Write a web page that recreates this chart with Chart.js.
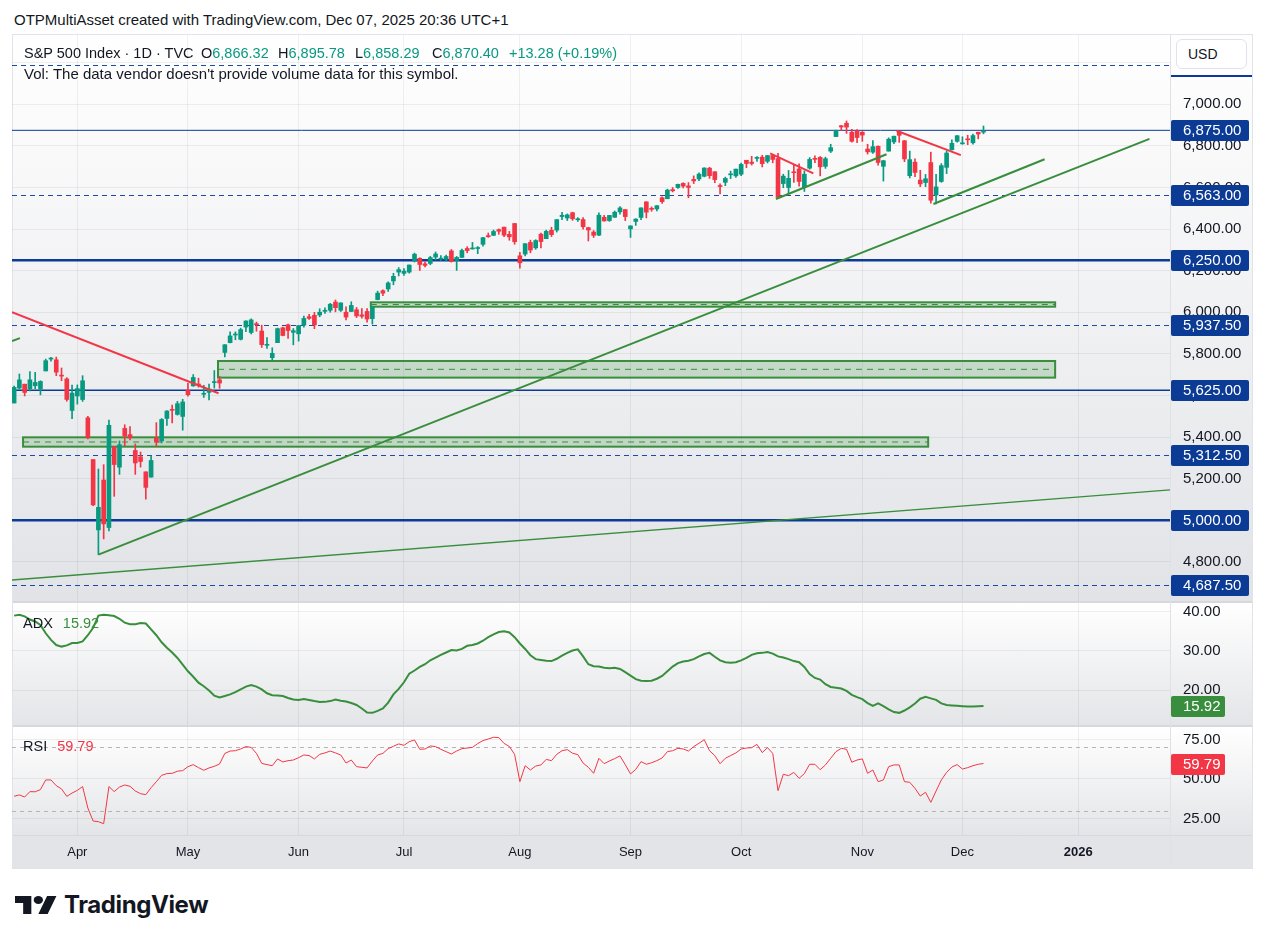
<!DOCTYPE html>
<html>
<head>
<meta charset="utf-8">
<script src="https://cdn.jsdelivr.net/npm/chart.js@4.4.1/dist/chart.umd.min.js"></script>
<style>
  body { margin: 0; width: 1266px; height: 944px; background: #fff; position: relative; overflow: hidden;
         font-family: "Liberation Sans", Arial, sans-serif; color: #131722; }
  .abs { position: absolute; }
  .pane { position: absolute; left: 12px; width: 1241px; }
  canvas { position: absolute; left: 0; }
  .txt { position: absolute; font-size: 14.5px; line-height: 16px; white-space: nowrap; }
  .g { color: #089981; }
</style>
</head>
<body>
<div class="txt" style="left:14px;top:12px;font-size:15px;">OTPMultiAsset created with TradingView.com, Dec 07, 2025 20:36 UTC+1</div>

<div class="pane" style="top:35px;height:566px;background:linear-gradient(#ffffff,#e2e3e7);"></div>
<div class="pane" style="top:601px;height:2px;background:#d6d8de;"></div>
<div class="pane" style="top:603px;height:122px;background:linear-gradient(#ffffff,#e4e5e8);"></div>
<div class="pane" style="top:725px;height:2px;background:#d6d8de;"></div>
<div class="pane" style="top:727px;height:108px;background:linear-gradient(#ffffff,#e4e5e8);"></div>
<div class="pane" style="top:835px;height:33px;background:#e3e4e8;border-top:1px solid #d6d8de;box-sizing:border-box;"></div>
<div class="abs" style="left:12px;top:34px;width:1241px;height:835px;border:1px solid #e0e3eb;box-sizing:border-box;"></div>
<div class="abs" style="left:1170px;top:35px;width:1px;height:833px;background:#dfe1e6;"></div>

<canvas id="cMain" width="1266" height="566" style="top:35px"></canvas>
<canvas id="cAdx" width="1266" height="122" style="top:603px"></canvas>
<canvas id="cRsi" width="1266" height="141" style="top:727px"></canvas>

<!-- price scale unit button -->
<div class="abs" style="left:1171px;top:35px;width:81px;height:40px;background:#fefefe;border-bottom:2px solid #0b3b94;"></div>
<div class="abs" style="left:1176px;top:39px;width:71px;height:30px;border:1px solid #e0e3eb;border-radius:6px;background:#fff;box-sizing:border-box;font-size:14px;line-height:28px;padding-left:11px;">USD</div>

<!-- legends -->
<div class="txt" style="left:24px;top:45px;">S&amp;P 500 Index · 1D · TVC</div>
<div class="txt" style="left:201px;top:45px;">O<span class="g">6,866.32</span></div>
<div class="txt" style="left:278px;top:45px;">H<span class="g">6,895.78</span></div>
<div class="txt" style="left:355px;top:45px;">L<span class="g">6,858.29</span></div>
<div class="txt" style="left:432px;top:45px;">C<span class="g">6,870.40</span></div>
<div class="txt g" style="left:509px;top:45px;">+13.28 (+0.19%)</div>
<div class="txt" style="left:24px;top:66px;font-size:15px;">Vol: The data vendor doesn't provide volume data for this symbol.</div>
<div class="txt" style="left:23px;top:615px;">ADX <span style="color:#388e3c;margin-left:6px;">15.92</span></div>
<div class="txt" style="left:23px;top:738px;">RSI <span style="color:#f23645;margin-left:6px;">59.79</span></div>

<!-- footer logo -->
<svg class="abs" style="left:15px;top:896px" width="42" height="18" viewBox="0 4 36 18" preserveAspectRatio="none">
  <path d="M14 22H7V11H0V4h14v18zM28 22h-8l7.5-18h8L28 22z" fill="#131722"/>
  <circle cx="20" cy="8" r="4" fill="#131722"/>
</svg>
<div class="abs" style="left:64px;top:890px;font-family:Inter,'Liberation Sans',sans-serif;font-weight:700;font-size:24px;line-height:30px;letter-spacing:-0.4px;color:#131722;">TradingView</div>

<script>
// bar 0 = 2025-03-14, one bar per trading session up to 2025-12-05 (bar 184)
const opens = [
  5563.85, 5635.60, 5654.53, 5632.37, 5646.92, 5630.73, 5718.08, 5775.14, 5771.66, 5695.64,
  5679.83, 5527.91, 5597.53, 5580.76, 5492.74, 5292.14, 4953.79, 5193.57, 4965.28, 5353.15,
  5255.56, 5441.96, 5411.99, 5335.75, 5305.45, 5232.94, 5207.67, 5395.92, 5381.38, 5489.73,
  5529.22, 5508.87, 5499.44, 5625.14, 5645.94, 5655.32, 5605.88, 5614.97, 5662.00, 5675.41,
  5807.04, 5854.00, 5891.00, 5870.00, 5929.00, 5902.88, 5944.66, 5910.00, 5841.26, 5781.89,
  5854.07, 5925.54, 5939.92, 5903.67, 5896.68, 5938.56, 5978.94, 5985.67, 5987.06, 6004.60,
  6009.90, 6049.38, 6009.92, 6000.56, 6004.00, 6012.15, 5987.93, 6004.24, 5969.67, 6061.21,
  6104.17, 6112.10, 6150.70, 6193.36, 6187.25, 6193.29, 6246.45, 6259.75, 6233.03, 6235.04,
  6265.54, 6255.68, 6255.15, 6295.29, 6250.13, 6263.66, 6307.00, 6304.74, 6306.60, 6326.90,
  6368.60, 6370.01, 6397.69, 6409.34, 6374.75, 6427.02, 6271.71, 6280.00, 6336.00, 6309.97,
  6375.60, 6354.09, 6394.69, 6395.17, 6460.35, 6453.30, 6478.87, 6445.00, 6446.00, 6407.00,
  6386.00, 6371.00, 6457.00, 6441.00, 6457.00, 6483.00, 6494.00, 6401.00, 6437.00, 6456.00,
  6531.00, 6500.00, 6497.00, 6551.00, 6546.00, 6590.00, 6600.00, 6620.00, 6608.00, 6639.00,
  6641.00, 6654.00, 6693.00, 6676.00, 6609.00, 6625.00, 6661.00, 6656.00, 6664.00, 6731.00,
  6722.00, 6740.00, 6746.00, 6726.00, 6754.00, 6739.00, 6619.00, 6600.00, 6675.00, 6689.00,
  6602.00, 6693.00, 6736.00, 6745.00, 6702.00, 6775.00, 6845.00, 6897.00, 6909.00, 6866.00,
  6873.00, 6866.00, 6785.00, 6770.00, 6798.00, 6702.00, 6775.00, 6819.00, 6867.00, 6825.00,
  6657.00, 6722.00, 6636.00, 6624.00, 6720.00, 6564.00, 6629.00, 6697.00, 6782.00, 6822.00,
  6810.00, 6830.00, 6815.00, 6866.00, 6866.32
];
const highs = [
  5645.27, 5703.52, 5654.53, 5715.33, 5711.15, 5670.84, 5775.14, 5783.35, 5784.64, 5732.28,
  5685.89, 5650.57, 5650.83, 5695.31, 5499.53, 5292.14, 5246.57, 5267.47, 5481.34, 5353.15,
  5381.46, 5459.46, 5450.41, 5367.24, 5328.31, 5232.94, 5309.60, 5469.69, 5489.40, 5528.11,
  5553.66, 5571.95, 5581.84, 5658.91, 5700.70, 5683.48, 5649.22, 5654.87, 5720.10, 5691.68,
  5845.22, 5906.63, 5906.00, 5924.00, 5958.62, 5968.61, 5953.06, 5938.37, 5878.08, 5829.51,
  5924.33, 5929.00, 5943.13, 5922.14, 5937.40, 5981.35, 5990.48, 5999.70, 6016.87, 6021.31,
  6043.01, 6059.40, 6045.43, 6026.16, 6050.83, 6023.25, 6018.25, 6018.20, 6028.81, 6101.80,
  6108.51, 6146.52, 6187.68, 6215.08, 6210.78, 6227.60, 6284.65, 6262.33, 6242.97, 6269.45,
  6290.22, 6272.43, 6275.37, 6302.04, 6268.67, 6304.51, 6315.61, 6336.08, 6316.12, 6360.64,
  6381.31, 6395.82, 6401.07, 6409.34, 6389.01, 6427.02, 6288.62, 6329.94, 6346.99, 6349.07,
  6380.58, 6395.16, 6409.26, 6446.20, 6480.28, 6473.03, 6481.34, 6455.00, 6456.00, 6409.00,
  6393.00, 6478.00, 6466.00, 6466.00, 6487.00, 6508.00, 6494.00, 6416.00, 6450.00, 6502.50,
  6532.00, 6507.00, 6513.00, 6555.00, 6592.00, 6600.00, 6616.00, 6623.00, 6624.00, 6656.00,
  6671.00, 6695.00, 6697.00, 6676.00, 6618.00, 6650.00, 6679.00, 6689.00, 6718.00, 6731.00,
  6750.00, 6749.00, 6755.00, 6754.00, 6757.00, 6764.00, 6664.00, 6682.00, 6711.00, 6714.00,
  6680.00, 6744.00, 6752.00, 6749.00, 6746.00, 6808.00, 6876.00, 6899.00, 6920.00, 6880.00,
  6878.00, 6869.00, 6808.00, 6826.00, 6800.00, 6731.00, 6839.00, 6847.00, 6870.00, 6826.00,
  6775.00, 6738.00, 6683.00, 6663.00, 6770.00, 6664.00, 6715.00, 6776.00, 6829.00, 6849.50,
  6844.00, 6851.00, 6857.00, 6866.00, 6895.78
];
const lows = [
  5563.85, 5631.12, 5597.76, 5622.20, 5632.33, 5603.10, 5718.08, 5765.21, 5695.25, 5670.94,
  5572.42, 5488.73, 5558.52, 5571.48, 5390.83, 5069.90, 4835.04, 4910.42, 4948.43, 5115.27,
  5220.77, 5358.02, 5386.44, 5220.79, 5255.58, 5101.63, 5207.67, 5356.67, 5371.96, 5455.86,
  5468.64, 5505.70, 5433.24, 5597.35, 5644.53, 5640.00, 5590.57, 5578.64, 5635.68, 5634.48,
  5786.08, 5853.00, 5868.00, 5867.00, 5907.00, 5895.69, 5909.26, 5830.91, 5825.82, 5767.41,
  5854.07, 5886.80, 5874.96, 5843.66, 5861.43, 5929.00, 5966.11, 5921.20, 5978.63, 5994.18,
  6000.26, 6002.32, 6003.88, 5963.21, 6004.00, 5974.80, 5971.89, 5952.56, 5943.23, 6059.53,
  6080.10, 6100.00, 6132.35, 6174.97, 6177.97, 6188.29, 6241.98, 6201.01, 6217.98, 6228.61,
  6251.55, 6249.98, 6247.45, 6241.57, 6201.50, 6263.66, 6285.95, 6303.79, 6281.71, 6317.49,
  6360.57, 6368.53, 6375.21, 6363.84, 6346.48, 6327.02, 6212.69, 6271.71, 6286.11, 6303.00,
  6310.08, 6354.09, 6364.06, 6385.76, 6445.02, 6441.07, 6441.93, 6437.00, 6400.00, 6343.00,
  6360.00, 6369.00, 6438.00, 6437.00, 6456.00, 6472.00, 6441.00, 6360.00, 6418.00, 6445.00,
  6454.00, 6486.00, 6487.00, 6523.00, 6546.00, 6579.00, 6596.00, 6598.00, 6551.00, 6619.00,
  6633.00, 6651.00, 6644.00, 6623.00, 6569.00, 6609.00, 6643.00, 6648.00, 6657.00, 6695.00,
  6708.00, 6726.00, 6699.00, 6718.00, 6719.00, 6550.00, 6599.00, 6570.00, 6625.00, 6606.00,
  6581.00, 6688.00, 6719.00, 6656.00, 6692.00, 6768.00, 6845.00, 6874.00, 6860.00, 6818.00,
  6816.00, 6822.00, 6761.00, 6764.00, 6708.00, 6631.00, 6775.00, 6811.00, 6817.00, 6724.00,
  6646.00, 6652.00, 6604.00, 6604.00, 6525.00, 6521.00, 6625.00, 6667.00, 6779.00, 6818.00,
  6808.00, 6806.00, 6808.00, 6834.00, 6858.29
];
const closes = [
  5638.94, 5675.12, 5614.66, 5675.29, 5662.89, 5667.56, 5767.57, 5776.65, 5712.20, 5693.31,
  5580.94, 5611.85, 5633.07, 5670.97, 5396.52, 5074.08, 5062.25, 4982.77, 5456.90, 5268.05,
  5363.36, 5405.97, 5396.63, 5275.70, 5282.70, 5158.20, 5287.76, 5375.86, 5484.77, 5525.21,
  5528.75, 5560.83, 5569.06, 5604.14, 5686.67, 5650.38, 5606.91, 5631.28, 5663.94, 5659.91,
  5844.19, 5886.55, 5892.58, 5916.93, 5958.38, 5963.60, 5940.46, 5844.61, 5842.01, 5802.82,
  5921.54, 5888.55, 5912.17, 5911.69, 5935.94, 5970.37, 5970.81, 5939.30, 6000.36, 6005.88,
  6038.81, 6022.24, 6045.26, 5976.97, 6033.11, 5982.72, 5980.87, 5967.84, 6025.17, 6092.18,
  6092.16, 6141.02, 6173.07, 6204.95, 6198.01, 6227.42, 6279.35, 6229.98, 6225.52, 6263.26,
  6280.46, 6259.75, 6268.56, 6243.76, 6263.70, 6297.36, 6296.79, 6305.60, 6309.62, 6358.91,
  6363.35, 6388.64, 6389.77, 6370.86, 6362.90, 6339.39, 6238.01, 6329.94, 6299.19, 6345.06,
  6340.00, 6389.45, 6373.45, 6445.76, 6466.58, 6468.54, 6449.80, 6449.15, 6411.37, 6395.78,
  6370.17, 6466.91, 6439.32, 6465.94, 6481.40, 6501.86, 6460.26, 6415.54, 6448.26, 6502.08,
  6481.50, 6495.15, 6512.61, 6532.04, 6587.47, 6584.29, 6615.28, 6606.76, 6600.35, 6631.96,
  6664.36, 6693.75, 6656.92, 6637.97, 6604.72, 6643.70, 6661.21, 6688.46, 6711.20, 6715.35,
  6715.79, 6740.28, 6714.59, 6753.72, 6735.11, 6552.51, 6654.72, 6644.31, 6671.06, 6629.07,
  6664.01, 6735.13, 6735.35, 6699.40, 6738.44, 6791.69, 6875.16, 6890.89, 6890.59, 6822.34,
  6840.20, 6851.97, 6771.55, 6796.29, 6720.32, 6728.80, 6832.43, 6846.61, 6850.92, 6737.49,
  6734.11, 6672.41, 6617.32, 6642.16, 6538.76, 6602.99, 6705.12, 6765.88, 6812.61, 6849.09,
  6812.63, 6829.37, 6849.72, 6857.12, 6870.40
];
const adxValues = [
  39.0, 39.2, 38.8, 38.0, 37.5, 36.6, 34.5, 32.8, 31.5, 31.1,
  31.4, 32.0, 32.0, 32.4, 34.0, 35.9, 39.0, 39.2, 39.1, 38.9,
  38.2, 37.2, 36.8, 36.8, 37.1, 37.0, 35.5, 34.0, 32.2, 30.8,
  29.6, 28.2, 26.5, 24.8, 23.4, 21.9, 21.0, 19.9, 18.6, 18.15,
  18.5, 18.9, 19.5, 20.2, 20.9, 21.3, 20.9, 20.2, 19.2, 18.7,
  18.6, 18.5, 18.0, 17.6, 17.5, 17.7, 17.5, 17.2, 16.95, 17.0,
  17.2, 17.6, 17.3, 17.1, 16.7, 16.2, 15.3, 14.3, 14.2, 14.7,
  15.3, 16.8, 18.9, 20.3, 22.0, 24.2, 25.0, 25.9, 26.6, 27.6,
  28.3, 29.0, 29.6, 30.2, 30.1, 30.5, 31.3, 31.5, 31.9, 32.6,
  33.5, 34.2, 34.8, 35.0, 34.7, 33.5, 31.9, 30.5, 28.9, 27.9,
  27.7, 27.5, 27.4, 28.0, 28.8, 29.5, 30.1, 30.4, 28.6, 26.6,
  26.1, 26.0, 25.7, 25.6, 25.7, 25.4, 24.6, 23.7, 22.8, 22.4,
  22.3, 22.4, 22.9, 23.6, 24.8, 26.0, 26.9, 27.3, 27.5, 27.9,
  28.6, 29.2, 29.5, 28.5, 27.6, 27.1, 27.0, 27.1, 27.6, 28.2,
  29.0, 29.4, 29.5, 29.7, 29.3, 28.6, 28.3, 27.9, 27.4, 27.1,
  25.9, 24.1, 23.1, 22.7, 21.5, 20.8, 20.6, 20.4, 19.8, 18.8,
  18.2, 17.7, 16.7, 15.95, 16.6, 15.9, 15.1, 14.4, 14.2, 14.8,
  15.6, 16.6, 17.8, 18.3, 17.9, 17.5, 16.6, 16.2, 16.1, 16.0,
  15.9, 15.8, 15.8, 15.9, 15.92
];
const rsiValues = [
  39.1, 39.9, 38.6, 42.0, 41.9, 43.3, 49.4, 49.4, 45.8, 43.7,
  39.0, 41.1, 42.8, 45.2, 31.6, 23.4, 23.0, 21.7, 45.2, 42.0,
  44.9, 46.2, 45.4, 42.4, 40.7, 40.1, 44.5, 48.3, 52.3, 53.4,
  53.6, 54.9, 55.3, 57.8, 59.1, 57.2, 55.5, 57.0, 58.0, 59.5,
  66.2, 67.7, 67.9, 69.0, 70.5, 70.0, 66.2, 59.9, 59.1, 58.4,
  62.7, 60.8, 61.6, 62.0, 63.5, 65.2, 64.8, 62.7, 65.6, 66.5,
  67.7, 66.5, 65.2, 60.1, 62.0, 57.8, 57.4, 57.0, 61.4, 65.2,
  66.2, 69.2, 70.7, 72.2, 71.3, 73.6, 74.7, 68.8, 69.0, 70.9,
  70.5, 68.8, 67.3, 65.8, 67.7, 69.2, 69.6, 70.0, 72.4, 74.3,
  75.3, 76.4, 76.2, 72.5, 70.6, 65.6, 48.3, 58.4, 55.7, 58.2,
  58.9, 62.4, 61.6, 65.6, 67.9, 68.6, 66.3, 65.4, 60.1, 57.4,
  53.6, 63.1, 59.7, 61.4, 62.9, 64.6, 59.1, 53.2, 56.1, 61.0,
  59.3, 60.3, 61.6, 63.3, 67.3, 67.9, 69.4, 69.0, 67.7, 70.5,
  72.6, 74.9, 67.9, 64.8, 59.7, 63.1, 64.8, 66.5, 69.0, 69.6,
  69.8, 71.9, 66.7, 69.8, 66.2, 42.6, 53.0, 52.1, 54.2, 50.4,
  53.4, 59.3, 59.3, 55.9, 58.9, 63.1, 67.3, 69.4, 68.8, 60.6,
  62.0, 62.7, 53.6, 55.7, 48.3, 49.4, 57.8, 58.9, 58.9, 48.3,
  47.9, 44.1, 39.2, 41.6, 35.2, 42.4, 49.4, 54.2, 57.6, 59.1,
  56.3, 57.2, 58.4, 59.3, 59.79
];

// time axis: bar index of the first session of each month
const monthBars = [12, 33, 54, 74, 96, 117, 138, 161, 180, 202];
const monthLabels = ['Apr', 'May', 'Jun', 'Jul', 'Aug', 'Sep', 'Oct', 'Nov', 'Dec', '2026'];

const priceTicks = [4800, 5000, 5200, 5400, 5600, 5800, 6000, 6200, 6400, 6600, 6800, 7000, 7200];
const adxTicks = [20, 30, 40];
const rsiTicks = [25, 50, 75];
const rsiBands = [30, 70];

// horizontal levels drawn on the chart
const solidLevels = [6875, 6250, 5625, 5000];
const dashedLevels = [7187.5, 6563, 5937.5, 5312.5, 4687.5];

// green support zones: start bar, end bar, low, high
const zoneStart = [67.7, 38.7, 1.7];
const zoneEnd = [197.6, 197.6, 173.5];
const zoneLow = [6027, 5686, 5354];
const zoneHigh = [6048, 5766, 5399];

// trend lines: [[bar, price], [bar, price]]
const greenTrends = [
  [[16, 4835], [215.5, 6834]],
  [[174.5, 6521], [195.6, 6736]],
  [[144.6, 6545], [165.6, 6760]],
  [[-0.4, 5862], [1.1, 5876]],
];
const redTrends = [
  [[-0.4, 6001], [38.8, 5611]],
  [[143.5, 6764], [151.7, 6668]],
  [[167.5, 6873], [179.7, 6756]],
];
const thinGreenTrends = [
  [[-0.4, 4713], [219.4, 5146]],
];

const X_MIN = -0.4, X_MAX = 219.4;
const UP = '#089981', DOWN = '#f23645', NAVY = '#0b3b94', DASH_BLUE = '#1c4ba6', GREEN = '#388e3c';
const GRID = 'rgba(42, 46, 57, 0.07)';
const FONT = '"Liberation Sans", Arial, sans-serif';

Chart.defaults.font.family = FONT;
Chart.defaults.color = '#131722';
Chart.defaults.animation = false;

const fmt = v => v.toLocaleString('en-US', { minimumFractionDigits: 2, maximumFractionDigits: 2 });

function xScale(showLabels) {
  return {
    type: 'linear', min: X_MIN, max: X_MAX, offset: false,
    afterBuildTicks: s => { s.ticks = monthBars.map(v => ({ value: v })); },
    ticks: {
      display: showLabels, autoSkip: false, maxRotation: 0, padding: 10,
      callback: v => monthLabels[monthBars.indexOf(v)],
      font: ctx => ({ size: 13, weight: ctx.tick && ctx.tick.label === '2026' ? 'bold' : 'normal' }),
      color: '#131722',
    },
    grid: { color: GRID, drawTicks: false, offset: false },
    border: { display: false },
    afterFit: s => { s.height = showLabels ? 33 : 0; s.paddingLeft = 0; s.paddingRight = 0; },
  };
}

function yScale(min, max, ticks) {
  return {
    type: 'linear', position: 'right', min, max,
    afterBuildTicks: s => { s.ticks = ticks.map(v => ({ value: v })); },
    ticks: { callback: v => fmt(v), font: { size: 15 }, color: '#131722', padding: 13, autoSkip: false },
    grid: { color: GRID, drawTicks: false },
    border: { display: false },
    // fixed width, and no label overhang so the plot keeps the full pane height
    afterFit: s => { s.width = 83; s.paddingTop = 0; s.paddingBottom = 0; },
  };
}

function valueBox(ctx, x0, x1, y, text, color) {
  ctx.save();
  ctx.fillStyle = color;
  ctx.beginPath();
  ctx.roundRect(x0, Math.round(y) - 10, x1 - x0, 21, 2);
  ctx.fill();
  ctx.fillStyle = '#ffffff';
  ctx.font = '15px ' + FONT;
  ctx.textAlign = 'left';
  ctx.textBaseline = 'middle';
  ctx.fillText(text, x0 + 12, Math.round(y) + 1);
  ctx.restore();
}

const lineDs = (pts, color, width) => ({
  type: 'line', data: pts.map(p => ({ x: p[0], y: p[1] })),
  borderColor: color, borderWidth: width, pointRadius: 0, tension: 0, order: 1,
});

const candleColor = ctx => closes[ctx.dataIndex] >= opens[ctx.dataIndex] ? UP : DOWN;
const bars = closes.map((_, i) => i);

const mainDecor = {
  id: 'mainDecor',
  beforeDatasetsDraw(chart) {
    const { ctx, chartArea: a, scales: { x, y } } = chart;
    ctx.save();
    ctx.beginPath(); ctx.rect(a.left, a.top, a.right - a.left, a.bottom - a.top); ctx.clip();
    // zones
    zoneStart.forEach((s, i) => {
      const x0 = x.getPixelForValue(s), x1 = x.getPixelForValue(zoneEnd[i]);
      const yTop = y.getPixelForValue(zoneHigh[i]), yBot = y.getPixelForValue(zoneLow[i]);
      ctx.fillStyle = 'rgba(56, 142, 60, 0.22)';
      ctx.fillRect(x0, yTop, x1 - x0, yBot - yTop);
      ctx.strokeStyle = GREEN; ctx.lineWidth = 2; ctx.setLineDash([]);
      ctx.strokeRect(x0, yTop, x1 - x0, yBot - yTop);
      const ym = y.getPixelForValue((zoneLow[i] + zoneHigh[i]) / 2);
      ctx.lineWidth = 1; ctx.setLineDash([6, 5]);
      ctx.beginPath(); ctx.moveTo(x0, ym); ctx.lineTo(x1, ym); ctx.stroke();
    });
    // levels
    ctx.strokeStyle = DASH_BLUE;
    ctx.setLineDash([5, 4]); ctx.lineWidth = 1.2;
    dashedLevels.forEach(p => {
      const yy = Math.round(y.getPixelForValue(p)) + 0.5;
      ctx.beginPath(); ctx.moveTo(a.left, yy); ctx.lineTo(a.right, yy); ctx.stroke();
    });
    ctx.setLineDash([]);
    ctx.strokeStyle = NAVY;
    const widths = { 6875: 1, 6250: 2.5, 5625: 1.5, 5000: 2.5 };
    solidLevels.forEach(p => {
      const yy = y.getPixelForValue(p);
      ctx.lineWidth = widths[p];
      ctx.beginPath(); ctx.moveTo(a.left, yy); ctx.lineTo(a.right, yy); ctx.stroke();
    });
    ctx.restore();
  },
  afterDraw(chart) {
    const { ctx, chartArea: a, scales: { y } } = chart;
    [...solidLevels, ...dashedLevels].forEach(p => {
      valueBox(ctx, a.right + 1, a.right + 79, y.getPixelForValue(p), fmt(p), NAVY);
    });
  },
};

new Chart(document.getElementById('cMain'), {
  type: 'bar',
  data: {
    datasets: [
      ...greenTrends.map(t => lineDs(t, GREEN, 2)),
      ...redTrends.map(t => lineDs(t, DOWN, 2)),
      ...thinGreenTrends.map(t => lineDs(t, GREEN, 1.3)),
      { type: 'bar', data: bars.map(i => ({ x: i, y: [opens[i], closes[i]] })), backgroundColor: candleColor,
        barThickness: 4, minBarLength: 1, grouped: false, order: 2 },
      { type: 'bar', data: bars.map(i => ({ x: i, y: [lows[i], highs[i]] })), backgroundColor: candleColor,
        barThickness: 1, grouped: false, order: 3 },
    ],
  },
  options: {
    responsive: false, devicePixelRatio: 1,
    layout: { padding: { left: 12, right: 13, top: 0, bottom: 0 } },
    plugins: { legend: { display: false }, tooltip: { enabled: false } },
    scales: { x: xScale(false), y: yScale(4612, 7333.3, priceTicks) },
  },
  plugins: [mainDecor],
});

new Chart(document.getElementById('cAdx'), {
  type: 'line',
  data: { datasets: [{ data: adxValues.map((v, i) => ({ x: i, y: v })), borderColor: GREEN, borderWidth: 2, pointRadius: 0, tension: 0 }] },
  options: {
    responsive: false, devicePixelRatio: 1,
    layout: { padding: { left: 12, right: 13, top: 0, bottom: 0 } },
    plugins: { legend: { display: false }, tooltip: { enabled: false } },
    scales: { x: xScale(false), y: yScale(11.1, 42.22, adxTicks) },
  },
  plugins: [{
    id: 'adxBox',
    afterDraw(chart) {
      const { ctx, chartArea: a, scales: { y } } = chart;
      const last = adxValues[adxValues.length - 1];
      valueBox(ctx, a.right + 1, a.right + 55, y.getPixelForValue(last), last.toFixed(2), GREEN);
    },
  }],
});

new Chart(document.getElementById('cRsi'), {
  type: 'line',
  data: { datasets: [{ data: rsiValues.map((v, i) => ({ x: i, y: v })), borderColor: DOWN, borderWidth: 1, pointRadius: 0, tension: 0 }] },
  options: {
    responsive: false, devicePixelRatio: 1,
    layout: { padding: { left: 12, right: 13, top: 0, bottom: 0 } },
    plugins: { legend: { display: false }, tooltip: { enabled: false } },
    scales: { x: xScale(true), y: yScale(14.56, 82.9, rsiTicks) },
  },
  plugins: [{
    id: 'rsiDecor',
    beforeDatasetsDraw(chart) {
      const { ctx, chartArea: a, scales: { y } } = chart;
      ctx.save();
      ctx.strokeStyle = '#b2b5be'; ctx.lineWidth = 1; ctx.setLineDash([4, 4]);
      rsiBands.forEach(v => {
        const yy = Math.round(y.getPixelForValue(v)) + 0.5;
        ctx.beginPath(); ctx.moveTo(a.left, yy); ctx.lineTo(a.right, yy); ctx.stroke();
      });
      ctx.restore();
    },
    afterDraw(chart) {
      const { ctx, chartArea: a, scales: { y } } = chart;
      const last = rsiValues[rsiValues.length - 1];
      valueBox(ctx, a.right + 1, a.right + 55, y.getPixelForValue(last), last.toFixed(2), DOWN);
    },
  }],
});
</script>
</body>
</html>
